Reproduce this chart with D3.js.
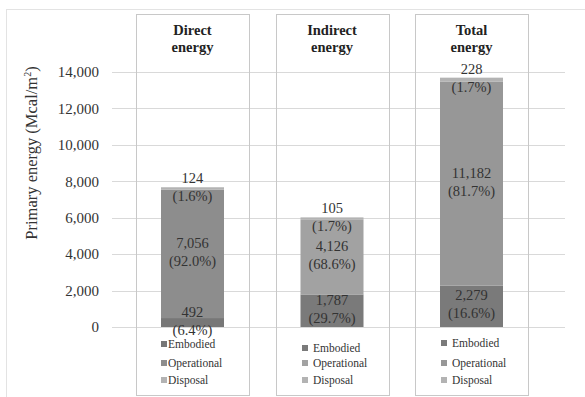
<!DOCTYPE html>
<html>
<head>
<meta charset="utf-8">
<script src="https://cdn.jsdelivr.net/npm/d3@7"></script>
<style>
  body { margin: 0; background: #fff; }
</style>
</head>
<body>
<svg id="chart" width="585" height="397"></svg>
<script>
// data
const panels = ['Direct energy', 'Indirect energy', 'Total energy'];
const components = ['Embodied', 'Operational', 'Disposal'];
const embodied = [492, 1787, 2279];
const operational = [7056, 4126, 11182];
const disposal = [124, 105, 228];
const shares = [
  ['6.4%', '92.0%', '1.6%'],
  ['29.7%', '68.6%', '1.7%'],
  ['16.6%', '81.7%', '1.7%']
];
const yTicks = [0, 2000, 4000, 6000, 8000, 10000, 12000, 14000];

// per-panel fills (embodied, operational, disposal)
const fills = [
  ['#777777', '#8d8d8d', '#b3b3b3'],
  ['#7a7a7a', '#a2a2a2', '#b3b3b3'],
  ['#7a7a7a', '#979797', '#b3b3b3']
];

const FONT = '"Liberation Serif", monospace';
const svg = d3.select('#chart');

const y = d3.scaleLinear()
  .domain([0, 14000])
  .range([327, 72]);

const boxX = d3.scaleBand()
  .domain(panels)
  .range([136, 528])
  .paddingInner(0.19);

// outer frame
svg.append('rect')
  .attr('x', 6.5).attr('y', 9.5)
  .attr('width', 600).attr('height', 400)
  .attr('fill', 'none').attr('stroke', '#e3e3e3');

// gridlines
svg.append('g')
  .selectAll('line')
  .data(yTicks)
  .join('line')
  .attr('x1', 112).attr('x2', 565)
  .attr('y1', d => Math.round(y(d)) + 0.5)
  .attr('y2', d => Math.round(y(d)) + 0.5)
  .attr('stroke', '#d9d9d9');

// y axis labels
const yAxis = d3.axisLeft(y).tickValues(yTicks).tickSize(0).tickPadding(0)
  .tickFormat(d3.format(','));
const yAxisG = svg.append('g')
  .attr('transform', 'translate(99,0)')
  .call(yAxis);
yAxisG.select('.domain').remove();
yAxisG.selectAll('text')
  .style('font-family', FONT)
  .attr('font-size', 15)
  .attr('fill', '#333');

// y title
const yTitle = svg.append('text')
  .attr('transform', 'translate(37,153) rotate(-90)')
  .attr('text-anchor', 'middle')
  .style('font-family', FONT)
  .attr('font-size', 16.5)
  .attr('fill', '#333');
yTitle.append('tspan').text('Primary energy (Mcal/m');
yTitle.append('tspan').attr('font-size', 10).attr('dy', -6).text('2');
yTitle.append('tspan').attr('dy', 6).text(')');

panels.forEach((name, i) => {
  const bx = boxX(name);
  const bw = boxX.bandwidth();
  const g = svg.append('g');

  // panel box
  g.append('rect')
    .attr('x', Math.round(bx) + 0.5).attr('y', 14.5)
    .attr('width', Math.round(bw)).attr('height', 381)
    .attr('fill', 'none').attr('stroke', '#c8c8c8');

  // title
  const words = name.split(' ');
  const cx = bx + bw / 2;
  g.selectAll('text.title')
    .data(words)
    .join('text')
    .attr('class', 'title')
    .attr('x', cx)
    .attr('y', (d, k) => 35 + k * 17)
    .attr('text-anchor', 'middle')
    .style('font-family', FONT)
    .attr('font-size', 14.5)
    .attr('font-weight', 'bold')
    .attr('fill', '#222')
    .text(d => d);

  // stacked bar
  const vals = [embodied[i], operational[i], disposal[i]];
  let acc = 0;
  const segs = vals.map((v, k) => {
    const s = {k, v, y0: acc, y1: acc + v};
    acc += v;
    return s;
  });
  const barW = 63;
  const barX = cx - barW / 2;

  g.selectAll('rect.seg')
    .data(segs)
    .join('rect')
    .attr('class', 'seg')
    .attr('x', barX)
    .attr('width', barW)
    .attr('y', d => y(d.y1))
    .attr('height', d => y(d.y0) - y(d.y1))
    .attr('fill', d => fills[i][d.k]);

  // labels
  segs.forEach(s => {
    const mid = s.k === 2 ? y(s.y1) : y((s.y0 + s.y1) / 2) - 2;
    const t = g.append('text')
      .attr('text-anchor', 'middle')
      .style('font-family', FONT)
      .attr('font-size', 14.5)
      .attr('fill', '#333');
    t.append('tspan').attr('x', cx).attr('y', mid - 4).text(d3.format(',')(s.v));
    t.append('tspan').attr('x', cx).attr('y', mid + 14).text('(' + shares[i][s.k] + ')');
  });

  // legend
  const legX = [161, 302, 441][i];
  const legY = [[344, 363, 380], [348, 363, 380], [343, 363, 380]][i];
  const textOff = [7, 11, 11][i];
  const lg = g.selectAll('g.leg')
    .data(components)
    .join('g')
    .attr('class', 'leg')
    .attr('transform', (d, k) => `translate(${legX},${legY[k]})`);
  lg.append('rect')
    .attr('x', 0).attr('y', -3)
    .attr('width', 6).attr('height', 6)
    .attr('fill', (d, k) => fills[i][k]);
  lg.append('text')
    .attr('x', textOff)
    .attr('y', 4)
    .style('font-family', FONT)
    .attr('font-size', 11.5)
    .attr('fill', '#333')
    .text(d => d);
});
</script>
</body>
</html>
